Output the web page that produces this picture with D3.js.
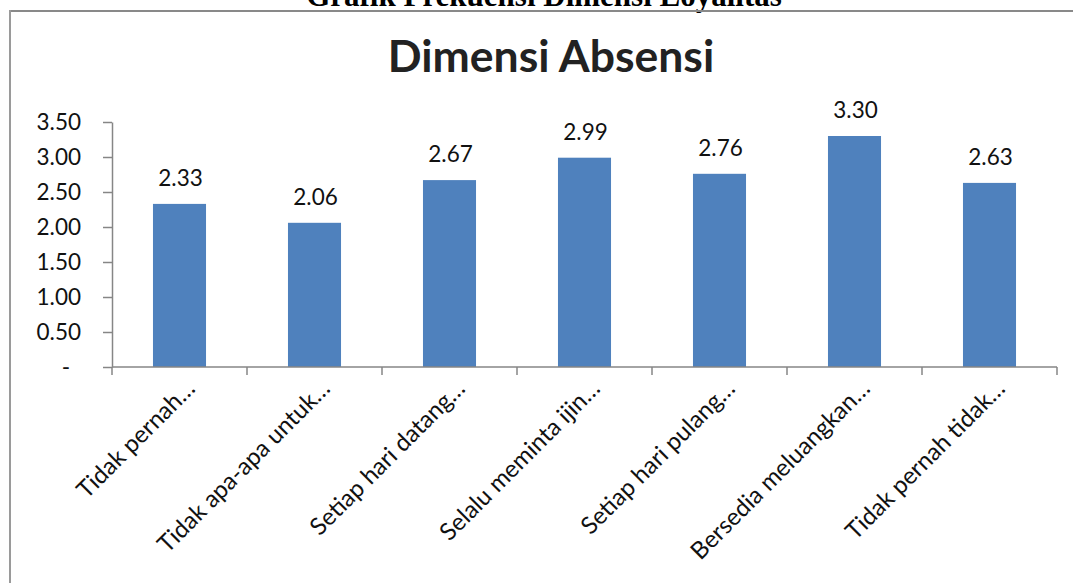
<!DOCTYPE html>
<html>
<head>
<meta charset="utf-8">
<script src="https://cdn.jsdelivr.net/npm/d3@7"></script>
<style>
  html, body { margin: 0; padding: 0; background: #fff; overflow: hidden; }
  svg { display: block; }
  text { font-family: Lato, "Open Sans", sans-serif; fill: #111; }
</style>
</head>
<body>
<svg id="chart" width="1073" height="583"></svg>
<script>
// Chart data
const categories = [
  "Tidak pernah\u2026",
  "Tidak apa-apa untuk\u2026",
  "Setiap hari datang\u2026",
  "Selalu meminta ijin\u2026",
  "Setiap hari pulang\u2026",
  "Bersedia meluangkan\u2026",
  "Tidak pernah tidak\u2026"
];
const values = [2.33, 2.06, 2.67, 2.99, 2.76, 3.30, 2.63];
const yTicks = [0, 0.5, 1.0, 1.5, 2.0, 2.5, 3.0, 3.5];
const pageTitle = "Grafik Frekuensi Dimensi Loyalitas";
const chartTitle = "Dimensi Absensi";

const svg = d3.select("#chart");
const W = 1073, H = 583;

// Plot area
const plot = { left: 112, right: 1057, top: 122, bottom: 367 };
const axisColor = "#868686";
const barColor = "#4F81BD";

// Heading of the page, running off the top edge
svg.append("text")
  .attr("x", 544)
  .attr("y", 6)
  .attr("text-anchor", "middle")
  .style("font-family", "'Liberation Serif', 'Times New Roman', serif")
  .style("font-weight", "bold")
  .style("font-size", "31px")
  .style("fill", "#000")
  .text(pageTitle);

// Chart frame (top and left edges visible)
svg.append("line")
  .attr("x1", 9).attr("x2", W).attr("y1", 11).attr("y2", 11)
  .attr("stroke", "#898989").attr("stroke-width", 2);
svg.append("line")
  .attr("x1", 10).attr("x2", 10).attr("y1", 10).attr("y2", H)
  .attr("stroke", "#9a9a9a").attr("stroke-width", 2);

// Chart title
svg.append("text")
  .attr("x", 551)
  .attr("y", 72)
  .attr("text-anchor", "middle")
  .style("font-weight", "bold")
  .style("font-size", "44.5px")
  .style("fill", "#222")
  .text(chartTitle);

// Scales
const slot = d3.scaleBand()
  .domain(categories)
  .range([plot.left, plot.right])
  .padding(0);

const x = d3.scaleBand()
  .domain(categories)
  .range([plot.left, plot.right])
  .paddingInner(0.607)
  .paddingOuter(0.3035);

const y = d3.scaleLinear()
  .domain([0, 3.5])
  .range([plot.bottom, plot.top]);

// Bars
svg.append("g")
  .selectAll("rect")
  .data(values)
  .join("rect")
  .attr("x", (d, i) => x(categories[i]))
  .attr("y", d => y(d))
  .attr("width", x.bandwidth())
  .attr("height", d => y(0) - y(d))
  .attr("fill", barColor);

// Value labels
svg.append("g")
  .selectAll("text")
  .data(values)
  .join("text")
  .attr("x", (d, i) => x(categories[i]) + x.bandwidth() / 2 + 1)
  .attr("y", d => y(d) - 18)
  .attr("text-anchor", "middle")
  .style("font-size", "22.5px")
  .text(d => d.toFixed(2));

// Y axis
const yAxis = d3.axisLeft(y)
  .tickValues(yTicks)
  .tickSize(9)
  .tickSizeOuter(0)
  .tickPadding(22)
  .tickFormat(d => d === 0 ? "-" : d.toFixed(2));

const gy = svg.append("g")
  .attr("transform", `translate(${plot.left},0)`)
  .call(yAxis);
gy.select(".domain").attr("stroke", axisColor).attr("stroke-width", 1.5);
gy.selectAll(".tick line").attr("stroke", axisColor).attr("stroke-width", 1.5);
gy.selectAll(".tick text")
  .style("font-family", "Lato, 'Open Sans', sans-serif")
  .style("font-size", "22.5px")
  .attr("fill", "#111");
gy.selectAll(".tick text").filter(d => d === 0).attr("dx", "-11");

// X axis baseline with ticks at category boundaries
const gx = svg.append("g");
gx.append("line")
  .attr("x1", plot.left).attr("x2", plot.right)
  .attr("y1", y(0)).attr("y2", y(0))
  .attr("stroke", axisColor).attr("stroke-width", 1.5);

const boundaries = categories.map(c => slot(c)).concat([slot.range()[1]]);
gx.selectAll("line.tick")
  .data(boundaries)
  .join("line")
  .attr("class", "tick")
  .attr("x1", d => d).attr("x2", d => d)
  .attr("y1", y(0)).attr("y2", y(0) + 8)
  .attr("stroke", axisColor).attr("stroke-width", 1.5);

// Rotated category labels
gx.selectAll("text")
  .data(categories)
  .join("text")
  .attr("transform", c => `translate(${slot(c) + slot.bandwidth() / 2 + 17},${y(0) + 23}) rotate(-45)`)
  .attr("text-anchor", "end")
  .style("font-size", "24px")
  .text(c => c);
</script>
</body>
</html>
